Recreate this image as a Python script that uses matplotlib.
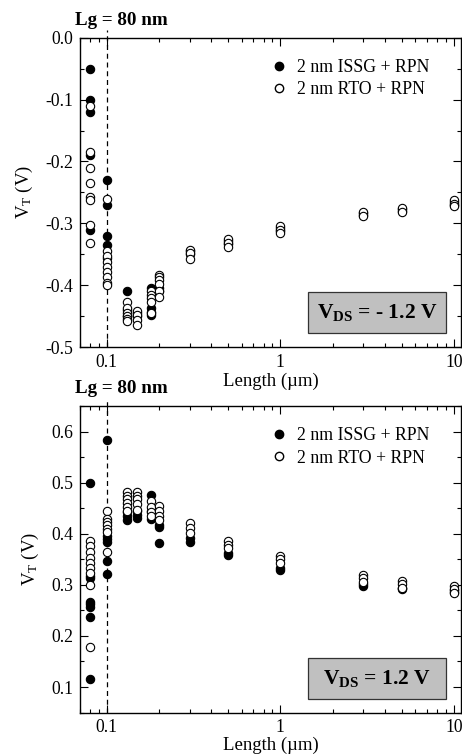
import numpy as np
import matplotlib
matplotlib.use("Agg")
import matplotlib.pyplot as plt
from matplotlib.patches import Rectangle
from matplotlib.ticker import FixedLocator, FuncFormatter, MultipleLocator
from matplotlib.lines import Line2D

plt.rcParams["font.family"] = ["Liberation Serif", "DejaVu Serif"]
plt.rcParams["mathtext.fontset"] = "custom"
plt.rcParams["mathtext.rm"] = "Liberation Serif"
plt.rcParams["mathtext.it"] = "Liberation Serif:italic"
plt.rcParams["mathtext.bf"] = "Liberation Serif:bold"
plt.rcParams["axes.unicode_minus"] = False

# =========================
# DATA  (gate lengths in um, VT in V)
# =========================
lengths = [0.08, 0.1, 0.13, 0.15, 0.18, 0.2, 0.3, 0.5, 1, 3, 5, 10]

# VDS = -1.2 V (top)
issg_neg = [
    [-0.05, -0.10, -0.12, -0.19, -0.31],
    [-0.23, -0.27, -0.32, -0.335, -0.356],
    [-0.41, -0.44, -0.45],
    [-0.445, -0.45],
    [-0.405, -0.437, -0.443, -0.448],
    [-0.405, -0.41],
    [-0.345, -0.35],
    [-0.328, -0.334],
    [-0.308, -0.313],
    [-0.283, -0.286],
    [-0.277, -0.28],
    [-0.265, -0.27],
]
rto_neg = [
    [-0.11, -0.185, -0.21, -0.235, -0.258, -0.262, -0.303, -0.332],
    [-0.26, -0.344, -0.353, -0.362, -0.371, -0.378, -0.386, -0.397, -0.40],
    [-0.428, -0.437, -0.445, -0.45, -0.455, -0.458],
    [-0.441, -0.448, -0.456, -0.464],
    [-0.41, -0.416, -0.421, -0.428, -0.445],
    [-0.383, -0.387, -0.392, -0.398, -0.41, -0.419],
    [-0.343, -0.348, -0.358],
    [-0.326, -0.332, -0.339],
    [-0.305, -0.311, -0.316],
    [-0.281, -0.288],
    [-0.276, -0.281],
    [-0.263, -0.268, -0.272],
]

# VDS = 1.2 V (bottom)
issg_pos = [
    [0.50, 0.318, 0.313, 0.267, 0.263, 0.256, 0.237, 0.116],
    [0.585, 0.395, 0.39, 0.385, 0.347, 0.321],
    [0.443, 0.435, 0.427],
    [0.445, 0.437, 0.432],
    [0.477, 0.445, 0.43],
    [0.417, 0.413, 0.382],
    [0.392, 0.385],
    [0.363, 0.358],
    [0.334, 0.33],
    [0.298, 0.302],
    [0.292, 0.295],
    [0.287, 0.29],
]
rto_pos = [
    [0.386, 0.376, 0.365, 0.353, 0.343, 0.334, 0.324, 0.30, 0.179],
    [0.444, 0.43, 0.423, 0.417, 0.41, 0.403, 0.365],
    [0.482, 0.475, 0.468, 0.46, 0.452, 0.445],
    [0.482, 0.475, 0.468, 0.458, 0.447],
    [0.464, 0.453, 0.443, 0.435],
    [0.455, 0.444, 0.436, 0.427],
    [0.421, 0.411, 0.401],
    [0.386, 0.379, 0.372],
    [0.356, 0.35, 0.343],
    [0.319, 0.313, 0.305],
    [0.308, 0.301, 0.294],
    [0.298, 0.292, 0.285],
]

series_labels = ["2 nm ISSG + RPN", "2 nm RTO + RPN"]
box_labels = [r"$\mathbf{V_{DS}}$ = - 1.2 V", r"$\mathbf{V_{DS}}$ = 1.2 V"]
lg_label = "Lg = 80 nm"


def flatten(groups):
    xs, ys = [], []
    for L, vals in zip(lengths, groups):
        xs += [L] * len(vals)
        ys += vals
    return np.array(xs), np.array(ys)


def draw_panel(ax, issg, rto, ylim, major, box_text, xlabelpad):
    x1, y1 = flatten(issg)
    x2, y2 = flatten(rto)
    ms = 6
    ax.plot(x1, y1, "o", ms=ms, mfc="black", mec="black", mew=0.8, ls="none", zorder=3)
    ax.plot(x2, y2, "o", ms=ms, mfc="white", mec="black", mew=0.8, ls="none", zorder=4)

    ax.set_xscale("log")
    ax.set_xlim(0.07, 11)
    ax.set_ylim(*ylim)
    ax.xaxis.set_major_locator(FixedLocator([0.1, 1, 10]))
    ax.xaxis.set_major_formatter(FuncFormatter(lambda v, p: f"{v:g}"))
    ax.yaxis.set_major_locator(MultipleLocator(major))
    ax.yaxis.set_minor_locator(MultipleLocator(major / 2))
    ax.yaxis.set_major_formatter(FuncFormatter(lambda v, p: f"{v:.1f}"))
    ax.tick_params(which="both", direction="in", top=True, right=True, labelsize=12.7, width=0.8)
    ax.tick_params(which="major", length=6, pad=5)
    ax.tick_params(which="minor", length=3)
    for s in ax.spines.values():
        s.set_linewidth(1.0)

    ax.set_xlabel("Length (\u00b5m)", fontsize=13.5, labelpad=xlabelpad)
    ax.set_ylabel(r"V$_\mathrm{T}$ (V)", fontsize=13.5, labelpad=7)

    # Lg marker line
    yr = ylim[1] - ylim[0]
    ax.plot([0.1, 0.1], [ylim[0], ylim[1] + 0.025 * yr], ls=(0, (4, 3)), lw=0.9,
            color="black", clip_on=False, zorder=2)
    ax.text(-0.012, 1.03, lg_label, transform=ax.transAxes, fontsize=13.7,
            fontweight="bold", ha="left", va="bottom")

    # legend
    handles = [
        Line2D([], [], marker="o", ls="none", ms=ms, mfc="black", mec="black"),
        Line2D([], [], marker="o", ls="none", ms=ms, mfc="white", mec="black"),
    ]
    ax.legend(handles, series_labels, loc="upper left", bbox_to_anchor=(0.475, 0.955),
              frameon=False, fontsize=12.8, handletextpad=0.45, borderaxespad=0,
              labelspacing=0.3, handlelength=1.2)

    # VDS box
    ax.add_patch(Rectangle((0.598, 0.045), 0.362, 0.132, transform=ax.transAxes,
                           facecolor="#c0c0c0", edgecolor="#333333", lw=0.9, zorder=5))
    ax.text(0.779, 0.111, box_text, transform=ax.transAxes, ha="center", va="center",
            fontsize=15.5, fontweight="bold", zorder=6)


fig = plt.figure(figsize=(4.62, 7.56), dpi=100)
ax1 = fig.add_axes([0.173, 0.541, 0.825, 0.409])
ax2 = fig.add_axes([0.173, 0.0575, 0.825, 0.405])

draw_panel(ax1, issg_neg, rto_neg, (-0.5, 0.0), 0.1, box_labels[0], 1)
draw_panel(ax2, issg_pos, rto_pos, (0.05, 0.65), 0.1, box_labels[1], 0)

fig.savefig("out.png", dpi=100)
